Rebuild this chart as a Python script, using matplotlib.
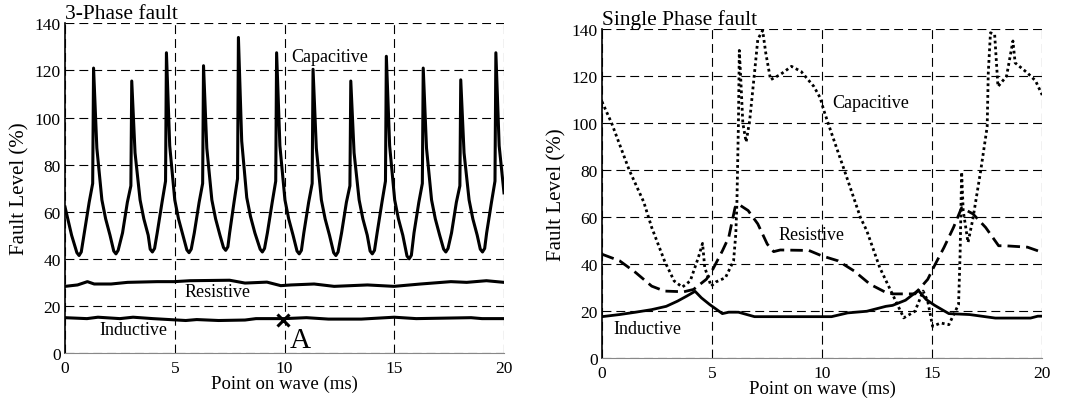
import matplotlib

matplotlib.use("Agg")
import matplotlib.pyplot as plt

plt.rcParams["font.family"] = ["Liberation Serif", "DejaVu Serif"]

# ---- 3-phase fault (left panel)
cap3_x = [0.00, 0.30,
          0.54, 0.64, 0.74, 0.88, 1.10, 1.26, 1.30, 1.45, 1.68, 1.85, 2.05,
          2.22, 2.32, 2.42, 2.62, 2.84, 3.00, 3.04, 3.19, 3.42, 3.59, 3.79,
          3.88, 3.98, 4.08, 4.20, 4.42, 4.58, 4.62, 4.77, 5.00, 5.17, 5.37,
          5.55, 5.65, 5.75, 5.89, 6.11, 6.27, 6.31, 6.46, 6.69, 6.86, 7.06,
          7.22, 7.32, 7.42, 7.50, 7.70, 7.86, 7.90, 8.05, 8.28, 8.45, 8.65,
          8.89, 8.99, 9.09, 9.22, 9.44, 9.60, 9.64, 9.79, 10.02, 10.19, 10.39,
          10.57, 10.67, 10.77, 10.88, 11.10, 11.26, 11.30, 11.45, 11.68, 11.85, 12.05,
          12.24, 12.34, 12.44, 12.60, 12.82, 12.98, 13.02, 13.17, 13.40, 13.57, 13.77,
          13.90, 14.00, 14.10, 14.22, 14.44, 14.60, 14.64, 14.79, 15.02, 15.19, 15.39,
          15.58, 15.68, 15.78, 15.90, 16.12, 16.28, 16.32, 16.47, 16.70, 16.87, 17.07,
          17.25, 17.35, 17.45, 17.61, 17.83, 17.99, 18.03, 18.18, 18.41, 18.58, 18.78,
          18.92, 19.02, 19.12, 19.21, 19.43, 19.59, 19.63, 19.78, 20.00]
cap3_y = [62.0, 50.0,
          42.6, 41.4, 42.9, 51, 64, 72, 121.0, 87, 65, 57, 50,
          43.3, 42.1, 43.6, 51, 64, 71, 115.5, 85, 65, 57, 50,
          44.1, 42.9, 44.4, 51, 64, 73, 127.5, 88, 65, 57, 50,
          43.8, 42.6, 44.1, 51, 64, 72, 122.0, 87, 65, 57, 50,
          44.8, 43.6, 45.1, 51, 64, 74, 134.0, 90, 66, 58, 51,
          44.1, 42.9, 44.4, 51, 64, 73, 127.5, 88, 65, 57, 50,
          43.3, 42.1, 43.6, 51, 64, 72, 120.5, 87, 65, 57, 50,
          42.6, 41.4, 42.9, 51, 64, 71, 115.5, 85, 65, 57, 50,
          43.3, 42.1, 43.6, 51, 64, 73, 126.0, 88, 65, 57, 50,
          41.2, 40.0, 41.5, 51, 64, 72, 121.0, 87, 65, 57, 50,
          44.1, 42.9, 44.4, 51, 64, 71, 116.0, 85, 65, 57, 50,
          44.1, 42.9, 44.4, 51, 64, 73, 127.5, 88, 68]

res3_x = [0, 0.57, 1.02, 1.33, 2.1, 2.85, 4.2, 4.97, 5.7, 7.5, 8.2, 9.2, 9.83,
          10.3, 11.35, 12.26, 13.78, 14.99, 16.2, 17.58, 18.3, 19.2, 20]
res3_y = [28.3, 28.9, 30.3, 29.3, 29.3, 30.0, 30.3, 30.3, 30.7, 30.9, 29.7, 30.1, 28.6,
          28.9, 29.3, 28.3, 28.9, 28.3, 29.3, 30.3, 30.0, 30.7, 30.0]

ind3_x = [0, 1, 1.5, 2.5, 3.1, 4, 5.5, 6, 7, 8.2, 8.7, 10, 11, 12, 13.5, 15, 16,
          18.5, 19, 20]
ind3_y = [15.0, 14.6, 15.2, 14.6, 15.2, 14.6, 13.8, 14.2, 13.8, 14.0, 14.6, 14.6,
          15.0, 14.4, 14.4, 15.2, 14.6, 15.0, 14.6, 14.6]

point_a = (9.95, 14.1)

# ---- Single phase fault (right panel)
cap1_x = [0, 0.44, 1.24, 1.9, 2.26, 2.84, 3.28, 3.65, 4.01, 4.38, 4.57, 4.67,
          4.96, 5.18, 5.61, 5.98, 6.08, 6.13, 6.2, 6.24, 6.3, 6.4, 6.55, 6.71,
          6.93, 7.08, 7.3, 7.44, 7.66, 8.1, 8.61, 9.05, 9.63, 9.92, 10.07, 10.43,
          11.01, 11.74, 12.03, 12.62, 13.2, 13.71, 14.22, 14.59, 14.8, 15.02,
          15.39, 15.76, 16.2, 16.27, 16.34, 16.41, 16.63, 16.85, 17.21, 17.5,
          17.55, 17.65, 17.84, 17.99, 18.38, 18.67, 18.77, 19.33, 19.7, 20]
cap1_y = [109.2, 100, 80, 66.4, 55.6, 41.4, 32.8, 30.2, 32.8, 42.8, 48.8, 38.5,
          30.6, 32.4, 34.2, 41.4, 52.8, 65.7, 100, 131, 120, 100, 92, 101,
          121.4, 135.7, 139.5, 130, 118.5, 120.7, 124.2, 122, 115.6, 110.7, 105.7, 95.7,
          80, 59.9, 54.2, 38.5, 27.1, 17.1, 19.9, 28.5, 24.2, 13.5,
          14.9, 14.2, 22.8, 44.2, 79.2, 62.8, 49.2, 59.2, 80, 98.5,
          121.4, 138.5, 137.8, 115.6, 120, 135, 125.7, 121.4, 118, 112]

res1_x = [0, 0.8, 1.53, 2.26, 2.84, 3.72, 4.16, 4.74, 4.96, 5.47, 5.76, 6.05,
          6.2, 6.64, 7.08, 7.51, 7.8, 8.1, 9.4, 9.99, 10.72, 11.45, 12.18, 12.84,
          13.2, 14.22, 14.8, 15.1, 15.54, 15.97, 16.34, 16.85, 17.43, 18.02,
          18.3, 19.33, 20]
res1_y = [44.2, 41.4, 36.4, 30.6, 28.5, 28.2, 29.2, 33.5, 36.4, 45.6, 51.4, 64.2,
          65.5, 62.8, 57.1, 48.5, 45.3, 46, 45.8, 43.5, 41.4, 37.1, 31.4, 28.2,
          27.3, 27.3, 33.5, 39.2, 47.1, 55.6, 64, 61.4, 55.6, 47.8,
          47.8, 47.2, 45]

ind1_x = [0, 0.8, 1.53, 2.26, 2.92, 3.43, 3.86, 4.23, 4.52, 4.89, 5.47, 5.76,
          6.2, 6.93, 8.1, 10.43, 11.16, 12.03, 12.9, 13.2, 13.79, 14.37, 14.73,
          15.1, 15.76, 16.7, 17.87, 19.47, 19.8, 20]
ind1_y = [17.6, 18.5, 19.5, 20.6, 22, 24.2, 26.4, 28.4, 25.6, 22.8, 18.9, 19.5,
          19.5, 17.6, 17.6, 17.6, 19.2, 19.9, 22, 22.4, 24.6, 28.8, 24.9,
          22.5, 18.9, 18.5, 17, 17, 17.8, 17.8]

x_ticks = [0, 5, 10, 15, 20]
y_ticks = [0, 20, 40, 60, 80, 100, 120, 140]

GRID_LS = (0, (8, 4.5))


def style_axes(ax, title):
    ax.set_xlim(0, 20)
    ax.set_ylim(0, 140)
    ax.set_xticks(x_ticks)
    ax.set_yticks(y_ticks)
    ax.tick_params(length=0, labelsize=12.5, pad=3)
    ax.tick_params(axis="x", pad=5)
    ax.grid(True, color="black", linestyle=GRID_LS, linewidth=0.8)
    for side in ("top", "right"):
        ax.spines[side].set_visible(False)
    ax.spines["bottom"].set_color("#888888")
    ax.spines["bottom"].set_linewidth(0.8)
    ax.spines["left"].set_linewidth(1.2)
    ax.set_xlabel("Point on wave (ms)", fontsize=13.5, labelpad=-1)
    ax.set_ylabel("Fault Level (%)", fontsize=15, labelpad=4)
    ax.set_title(title, loc="left", fontsize=15.5, pad=1)


fig = plt.figure(figsize=(10.73, 4.02), dpi=100)
ax1 = fig.add_axes([0.0606, 0.1194, 0.4091, 0.8201])
ax2 = fig.add_axes([0.5610, 0.1070, 0.4103, 0.8177])

# left: 3-phase
ax1.plot(cap3_x, cap3_y, color="black", lw=2.2, solid_joinstyle="round")
ax1.plot(res3_x, res3_y, color="black", lw=2.2)
ax1.plot(ind3_x, ind3_y, color="black", lw=2.2)
ax1.plot(*point_a, marker="x", color="black", markersize=8, mew=2.2)
ax1.text(10.3, 126, "Capacitive", fontsize=13, va="center")
ax1.text(5.45, 26, "Resistive", fontsize=13, va="center")
ax1.text(1.55, 10, "Inductive", fontsize=13, va="center")
ax1.text(10.25, 5.5, "A", fontsize=21, va="center")
style_axes(ax1, "3-Phase fault")

# right: single phase
ax2.plot(cap1_x, cap1_y, color="black", lw=2.0,
         linestyle=(0, (1, 1.1)), dash_capstyle="butt")
ax2.plot(res1_x, res1_y, color="black", lw=2.0, linestyle=(0, (4.5, 2.2)))
ax2.plot(ind1_x, ind1_y, color="black", lw=2.0)
ax2.text(10.45, 109, "Capacitive", fontsize=13, va="center")
ax2.text(8.0, 52.5, "Resistive", fontsize=13, va="center")
ax2.text(0.5, 12.5, "Inductive", fontsize=13, va="center")
style_axes(ax2, "Single Phase fault")

fig.savefig("out.png", dpi=100)
